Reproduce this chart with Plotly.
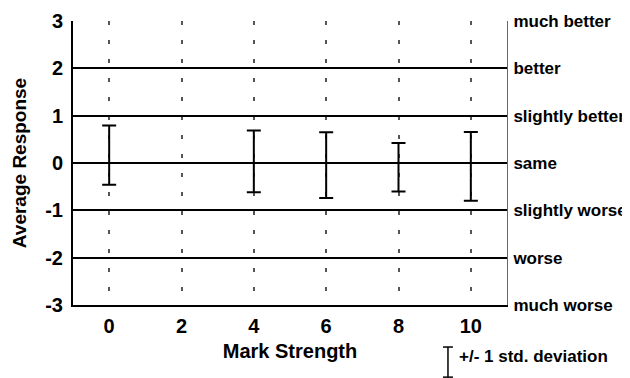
import plotly.graph_objects as go

# Data
mark_strength = [0, 4, 6, 8, 10]
avg_response = [0.167, 0.033, -0.045, -0.09, -0.07]
std_dev = [0.624, 0.652, 0.695, 0.514, 0.725]

x_ticks = [0, 2, 4, 6, 8, 10]
y_ticks = [-3, -2, -1, 0, 1, 2, 3]
y_labels_right = ["much worse", "worse", "slightly worse", "same",
                  "slightly better", "better", "much better"]

FONT = "Liberation Sans, Arial, sans-serif"

fig = go.Figure()
fig.add_trace(go.Scatter(
    x=mark_strength, y=avg_response, mode="markers",
    marker=dict(size=1, color="rgba(0,0,0,0)"),
    error_y=dict(type="data", array=std_dev, visible=True,
                 color="black", thickness=2, width=7),
    showlegend=False, hoverinfo="skip",
))
# invisible trace to activate right axis
fig.add_trace(go.Scatter(x=[None], y=[None], yaxis="y2", showlegend=False))

# page body has an 8px default margin, so the figure is 8px smaller
fig.update_layout(
    width=622, height=370,
    margin=dict(l=65, r=123, t=13, b=73),
    paper_bgcolor="white", plot_bgcolor="white",
    font=dict(family=FONT, color="black"),
    xaxis=dict(
        range=[-1, 11], tickvals=x_ticks, ticktext=[str(v) for v in x_ticks],
        showgrid=True, gridcolor="#555555", gridwidth=1.5, griddash="4px,15px",
        showline=True, linecolor="black", linewidth=2,
        ticks="outside", ticklen=2, tickcolor="rgba(0,0,0,0)",
        tickfont=dict(size=20, family=FONT, weight="bold"),
        title=dict(text="Mark Strength", font=dict(size=20, family=FONT, weight="bold"), standoff=8),
        zeroline=False, automargin=False,
    ),
    yaxis=dict(
        range=[-3, 3], tickvals=y_ticks, ticktext=[str(v) for v in y_ticks],
        showgrid=True, gridcolor="black", gridwidth=1.5,
        showline=True, linecolor="black", linewidth=2,
        ticks="outside", ticklen=4, tickcolor="rgba(0,0,0,0)",
        tickfont=dict(size=20, family=FONT, weight="bold"),
        title=dict(text="Average Response", font=dict(size=19, family=FONT, weight="bold"), standoff=14),
        zeroline=False, automargin=False,
    ),
    yaxis2=dict(
        range=[-3, 3], tickvals=y_ticks, ticktext=y_labels_right,
        overlaying="y", side="right", showgrid=False,
        showline=True, linecolor="#666666", linewidth=1,
        ticks="outside", ticklen=2, tickcolor="rgba(0,0,0,0)",
        tickfont=dict(size=17, family=FONT, weight="bold"),
        zeroline=False, automargin=False,
    ),
)

# Legend key for the error bars
kx, kw, ktop, kbot = 0.864, 0.0115, -0.148, -0.254
fig.add_shape(type="line", xref="paper", yref="paper", x0=kx, x1=kx, y0=kbot, y1=ktop,
              line=dict(color="black", width=1.5))
fig.add_shape(type="line", xref="paper", yref="paper", x0=kx - kw, x1=kx + kw, y0=ktop, y1=ktop,
              line=dict(color="black", width=1.5))
fig.add_shape(type="line", xref="paper", yref="paper", x0=kx - kw, x1=kx + kw, y0=kbot, y1=kbot,
              line=dict(color="black", width=1.5))
fig.add_annotation(xref="paper", yref="paper", x=0.885, y=-0.183, xanchor="left", yanchor="middle",
                   text="+/- 1 std. deviation", showarrow=False,
                   font=dict(size=17, family=FONT, weight="bold"))

fig.write_html("out.html")
